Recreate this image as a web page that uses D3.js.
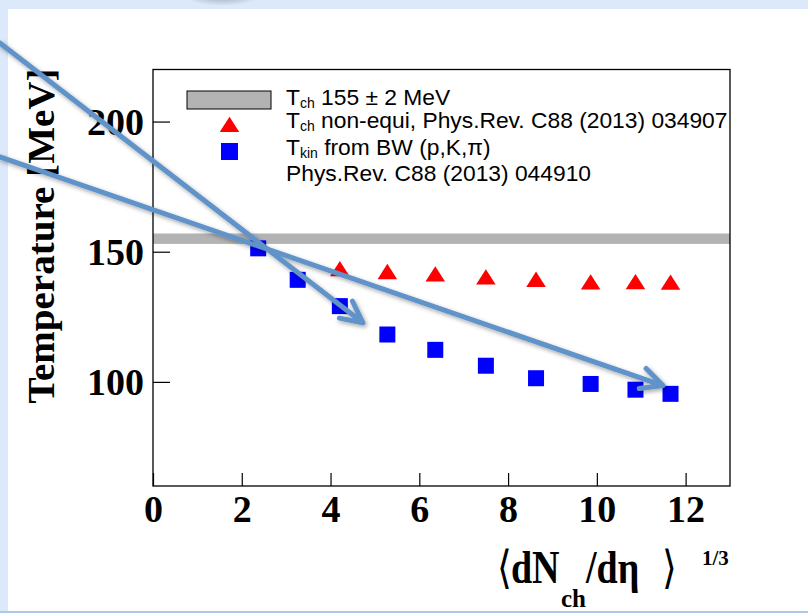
<!DOCTYPE html>
<html><head><meta charset="utf-8">
<script src="https://cdn.jsdelivr.net/npm/d3@7"></script>
<style>html,body{margin:0;padding:0;background:#fff;}svg{display:block;}</style>
</head><body>
<script>
// ---- data ----
const xTicks = [0, 2, 4, 6, 8, 10, 12];
const yTicks = [100, 150, 200];
const xKin = [2.37, 3.26, 4.21, 5.28, 6.36, 7.50, 8.63, 9.86, 10.87, 11.66];
const tKin = [151.3, 139.2, 129.1, 118.2, 112.3, 106.2, 101.4, 99.2, 97.0, 95.4];
const xNonEq = [4.21, 5.28, 6.36, 7.50, 8.63, 9.86, 10.87, 11.66];
const tNonEq = [143.3, 142.2, 141.3, 140.1, 139.2, 138.2, 138.3, 138.1];
const tchBand = [153, 157];
const legendLabels = [
  ["T", "ch", " 155 \u00B1 2 MeV"],
  ["T", "ch", " non-equi, Phys.Rev. C88 (2013) 034907"],
  ["T", "kin", " from BW (p,K,\u03C0)"],
  ["Phys.Rev. C88 (2013) 044910", "", ""]
];
// slide annotation arrows, in data coordinates: [x0, y0, x1, y1]
const arrows = [
  [-3.45, 230.2, 4.73, 122.7],
  [-3.45, 186.4, 11.49, 98.6]
];

const W = 808, H = 613;
const svg = d3.select("body").append("svg").attr("width", W).attr("height", H);
const defs = svg.append("defs");
const f = defs.append("filter").attr("id", "sh").attr("x", "-20%").attr("y", "-20%").attr("width", "140%").attr("height", "140%");
f.append("feDropShadow").attr("dx", 1.5).attr("dy", 2).attr("stdDeviation", 2).attr("flood-color", "#000").attr("flood-opacity", 0.35);
const rg = defs.append("radialGradient").attr("id", "ov");
rg.append("stop").attr("offset", "0%").attr("stop-color", "#8e9aab");
rg.append("stop").attr("offset", "60%").attr("stop-color", "#b9c6d8");
rg.append("stop").attr("offset", "100%").attr("stop-color", "#dbe9fa");

// slide background
svg.append("rect").attr("x", 0).attr("y", 0).attr("width", W).attr("height", H).attr("fill", "#fff");
svg.append("rect").attr("x", 0).attr("y", 0).attr("width", W).attr("height", 9).attr("fill", "#dbe9fa");
svg.append("rect").attr("x", 0).attr("y", 0).attr("width", 8).attr("height", 611).attr("fill", "#dbe9fa");
svg.append("ellipse").attr("cx", 222).attr("cy", -8).attr("rx", 42).attr("ry", 14).attr("fill", "url(#ov)");
svg.append("rect").attr("x", 0).attr("y", 611).attr("width", W).attr("height", 2).attr("fill", "#adc8ea");

const L = 153, R = 730, T = 69.5, B = 486;
const x = d3.scaleLinear().domain([0, 13]).range([L, R]);
const y = d3.scaleLinear().domain([60, 220]).range([B, T]);

// band
svg.append("rect").attr("x", x(0)).attr("width", x(13) - x(0))
  .attr("y", y(tchBand[1])).attr("height", y(tchBand[0]) - y(tchBand[1])).attr("fill", "#b3b3b3");

// markers
const tri = d3.symbol().type(d3.symbolTriangle).size(150);
svg.append("g").selectAll("path").data(xNonEq.map((v, i) => [v, tNonEq[i]])).join("path")
  .attr("d", tri).attr("fill", "#ff0000")
  .attr("transform", d => `translate(${x(d[0])},${y(d[1]) + 2}) scale(1.05,0.95)`);
const sq = 16;
svg.append("g").selectAll("rect").data(xKin.map((v, i) => [v, tKin[i]])).join("rect")
  .attr("x", d => x(d[0]) - sq / 2).attr("y", d => y(d[1]) - sq / 2)
  .attr("width", sq).attr("height", sq).attr("fill", "#0000ff");

// frame & axes
svg.append("rect").attr("x", L).attr("y", T).attr("width", R - L).attr("height", B - T)
  .attr("fill", "none").attr("stroke", "#000").attr("stroke-width", 1.3);
const xAxis = d3.axisBottom(x).tickValues(xTicks).tickSize(-13).tickPadding(12).tickFormat(d3.format("d"));
const gx = svg.append("g").attr("transform", `translate(0,${B})`).call(xAxis);
gx.select(".domain").remove();
gx.selectAll("line").attr("stroke", "#000").attr("stroke-width", 1.2);
gx.selectAll("text").attr("font-family", "Liberation Serif, Times New Roman, serif").attr("font-weight", "bold")
  .attr("font-size", 38).attr("fill", "#000").attr("dy", null).attr("y", 36);
const yAxis = d3.axisLeft(y).tickValues(yTicks).tickSize(-17).tickPadding(10).tickFormat(d3.format("d"));
const gy = svg.append("g").attr("transform", `translate(${L},0)`).call(yAxis);
gy.select(".domain").remove();
gy.selectAll("line").attr("stroke", "#000").attr("stroke-width", 1.2);
gy.selectAll("text").attr("font-family", "Liberation Serif, Times New Roman, serif").attr("font-weight", "bold")
  .attr("font-size", 38).attr("fill", "#000").attr("x", -9).attr("dy", "0.34em");

// axis titles
svg.append("text").attr("transform", "translate(54,236) rotate(-90)")
  .attr("text-anchor", "middle").attr("font-family", "Liberation Serif, serif").attr("font-weight", "bold")
  .attr("font-size", 38).attr("textLength", 335).attr("lengthAdjust", "spacingAndGlyphs")
  .text("Temperature [MeV]");
const xt = svg.append("g").attr("font-family", "Liberation Serif, DejaVu Serif, serif").attr("font-weight", "bold").attr("fill", "#000");
const xtMain = xt.append("g").attr("transform", "translate(0,583) scale(1,1.2) translate(0,-583)");
xtMain.append("text").attr("x", 497).attr("y", 583).attr("font-size", 38).attr("font-weight", "normal").text("\u27E8");
xtMain.append("text").attr("x", 511).attr("y", 583).attr("font-size", 38).text("dN");
xtMain.append("text").attr("x", 586).attr("y", 583).attr("font-size", 38).text("/d\u03B7");
xtMain.append("text").attr("x", 662).attr("y", 583).attr("font-size", 38).attr("font-weight", "normal").text("\u27E9");
xt.append("text").attr("x", 561).attr("y", 607).attr("font-size", 25).text("ch");
xt.append("text").attr("x", 702).attr("y", 565).attr("font-size", 21).text("1/3");

// legend
const lg = svg.append("g").attr("font-family", "Liberation Sans, Arial, Helvetica, sans-serif").attr("fill", "#000");
lg.append("rect").attr("x", 187).attr("y", 91).attr("width", 84).attr("height", 18)
  .attr("fill", "#b3b3b3").attr("stroke", "#000").attr("stroke-width", 1);
lg.append("path").attr("d", tri).attr("fill", "#ff0000").attr("transform", "translate(229.5,127) scale(1.05,0.95)");
lg.append("rect").attr("x", 221).attr("y", 143).attr("width", 17).attr("height", 17).attr("fill", "#0000ff");
const baselines = [105, 128, 155, 181];
legendLabels.forEach((lab, i) => {
  const t = lg.append("text").attr("x", 286).attr("y", baselines[i]).attr("font-size", 22.8);
  t.append("tspan").text(lab[0]);
  if (lab[1]) {
    t.append("tspan").attr("font-size", 14).attr("dy", 3).text(lab[1]);
    t.append("tspan").attr("dy", -3).text(lab[2]);
  }
});

// annotation arrows
const ag = svg.append("g").attr("filter", "url(#sh)").attr("stroke", "#5f93c9").attr("stroke-width", 5)
  .attr("fill", "none").attr("stroke-linecap", "round").attr("stroke-linejoin", "round");
arrows.forEach(a => {
  const x0 = x(a[0]), y0 = y(a[1]), x1 = x(a[2]), y1 = y(a[3]);
  const ang = Math.atan2(y1 - y0, x1 - x0), len = 24, sp = 0.46;
  const p1 = [x1 - len * Math.cos(ang - sp), y1 - len * Math.sin(ang - sp)];
  const p2 = [x1 - len * Math.cos(ang + sp), y1 - len * Math.sin(ang + sp)];
  ag.append("path").attr("d", `M${x0},${y0}L${x1},${y1}M${p1[0]},${p1[1]}L${x1},${y1}L${p2[0]},${p2[1]}`);
});
</script>
</body></html>
